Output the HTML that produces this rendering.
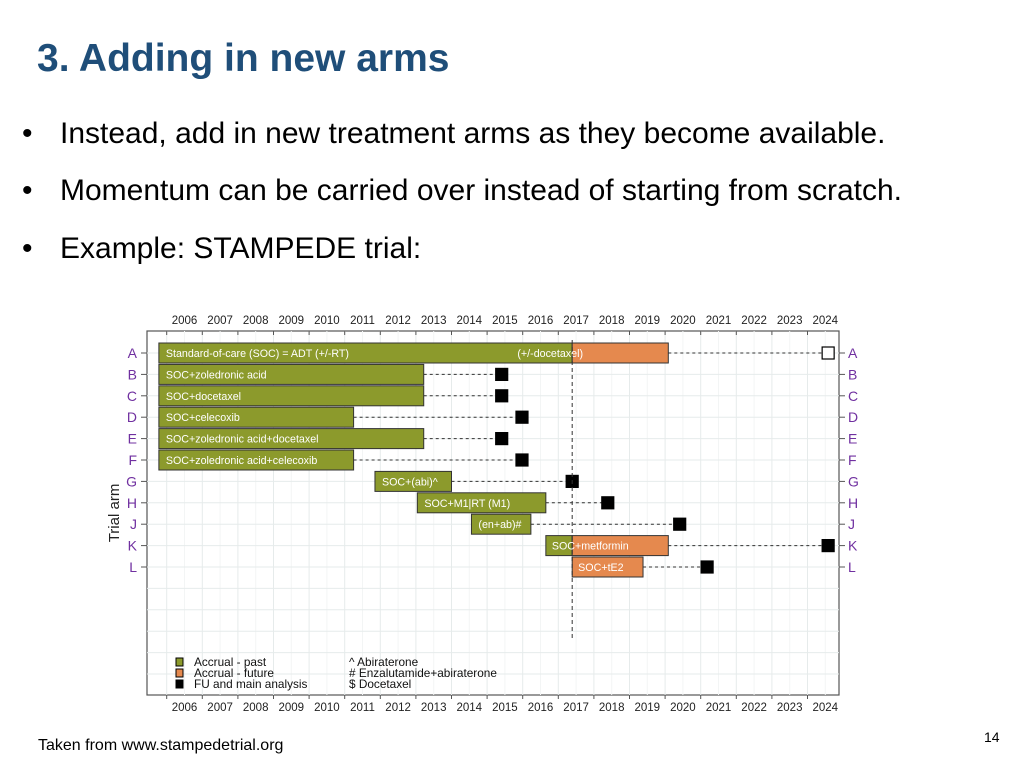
<!DOCTYPE html>
<html><head><meta charset="utf-8"><style>
body{margin:0;width:1024px;height:768px;background:#fff;font-family:"Liberation Sans",sans-serif;position:relative;overflow:hidden}
.t{position:absolute;white-space:nowrap}
</style></head><body>
<div class="t" style="left:37px;top:37px;font-size:39px;font-weight:bold;color:#1f4e79">3. Adding in new arms</div>
<div class="t" style="left:22px;top:117px;font-size:30px;color:#000"><span style="display:inline-block;width:38px">•</span>Instead, add in new treatment arms as they become available.</div>
<div class="t" style="left:22px;top:174px;font-size:30px;color:#000"><span style="display:inline-block;width:38px">•</span>Momentum can be carried over instead of starting from scratch.</div>
<div class="t" style="left:22px;top:232px;font-size:30px;color:#000"><span style="display:inline-block;width:38px">•</span>Example: STAMPEDE trial:</div>
<div class="t" style="left:38px;top:737px;font-size:16px">Taken from www.stampedetrial.org</div>
<div class="t" style="left:984px;top:729px;font-size:14px">14</div>
<svg id="chart" width="1024" height="768" style="position:absolute;left:0;top:0" font-family="Liberation Sans, sans-serif"></svg>
<script>
const years=[2006,2007,2008,2009,2010,2011,2012,2013,2014,2015,2016,2017,2018,2019,2020,2021,2022,2023,2024];
const arms=['A','B','C','D','E','F','G','H','J','K','L'];
const labels=['Standard-of-care (SOC) = ADT (+/-RT)','SOC+zoledronic acid','SOC+docetaxel','SOC+celecoxib','SOC+zoledronic acid+docetaxel','SOC+zoledronic acid+celecoxib','SOC+(abi)^','SOC+M1|RT (M1)','(en+ab)#','SOC+metformin','SOC+tE2'];
const starts=[2005.78,2005.78,2005.78,2005.78,2005.78,2005.78,2011.85,2013.04,2014.56,2016.65,2017.39];
const pastEnd=[2017.39,2013.22,2013.22,2011.25,2013.22,2011.25,2014.0,2016.65,2016.23,2017.39,2017.39];
const futureEnd=[2020.09,null,null,null,null,null,null,null,null,2020.09,2019.38];
const analysis=[2024.58,2015.41,2015.41,2015.98,2015.41,2015.98,2017.39,2018.39,2020.41,2024.58,2021.18];
const analysisFuture=[true,false,false,false,false,false,false,false,false,false,false];
const nowYear=2017.39;
const svg=document.getElementById('chart');const NS='http://www.w3.org/2000/svg';
function el(t,a,txt){const e=document.createElementNS(NS,t);for(const k in a)e.setAttribute(k,a[k]);if(txt!==undefined)e.textContent=txt;svg.appendChild(e);return e;}
const X=y=>166.7+(y-2006)*35.6;const Y=i=>353+i*21.4;
const L=147,R=839,T=331,B=695;
el('rect',{x:L,y:T,width:R-L,height:B-T,fill:'#fff',stroke:'#555','stroke-width':1.2});
for(let i=0;i<=years.length;i++){const x=X(2006+i);if(x<R){const g=el('line',{x1:x,x2:x,y1:T,y2:B,stroke:'#e6ebeb'});}
const m=X(2006.5+i);if(m<R)el('line',{x1:m,x2:m,y1:T,y2:B,stroke:'#f3f5f5'});}
for(let i=0;i<16;i++){const y=Y(i);if(y<B){const g=el('line',{x1:L,x2:R,y1:y,y2:y,stroke:'#e6ebeb'});}}
years.forEach(yr=>{const x=X(yr)+17.8;
const a=el('text',{x:x,y:324,'font-size':11.5,'text-anchor':'middle',fill:'#222'},yr);
const b=el('text',{x:x,y:711,'font-size':11.5,'text-anchor':'middle',fill:'#222'},yr);
el('line',{x1:X(yr),x2:X(yr),y1:T,y2:T+4,stroke:'#555'});el('line',{x1:X(yr),x2:X(yr),y1:B,y2:B+4,stroke:'#555'});});
arms.forEach((a,i)=>{const y=Y(i);
el('line',{x1:L-6,x2:L,y1:y,y2:y,stroke:'#555'});el('line',{x1:R,x2:R+6,y1:y,y2:y,stroke:'#555'});
const l=el('text',{x:137,y:y+5,'font-size':14,'text-anchor':'end',fill:'#7030a0'},a);
const r=el('text',{x:848,y:y+5,'font-size':14,fill:'#7030a0'},a);
const endBar=futureEnd[i]!==null?futureEnd[i]:pastEnd[i];
el('line',{x1:X(endBar),x2:X(analysis[i]),y1:y,y2:y,stroke:'#333','stroke-dasharray':'3,3'});
const p=el('rect',{x:X(starts[i]),y:y-10,width:X(pastEnd[i])-X(starts[i]),height:20,fill:'#8c9a2c',stroke:'#333'});
if(futureEnd[i]!==null){const f=el('rect',{x:X(Math.max(starts[i],pastEnd[i])),y:y-10,width:X(futureEnd[i])-X(Math.max(starts[i],pastEnd[i])),height:20,fill:'#e5894e',stroke:'#333'});}
const t=el('text',{x:X(starts[i])+(i===9||i===10?6:7),y:y+4,'font-size':10.7,fill:'#fff'},labels[i]);
const s=el('rect',{x:X(analysis[i])-6,y:y-6,width:12,height:12,fill:analysisFuture[i]?'#fff':'#000',stroke:'#000','stroke-width':1.2});});
el('text',{x:X(2015.85),y:Y(0)+4,'font-size':10.7,fill:'#fff'},'(+/-docetaxel)');
el('line',{x1:X(nowYear),x2:X(nowYear),y1:340,y2:640,stroke:'#333','stroke-dasharray':'4,3'});
const yt=el('text',{x:0,y:0,'font-size':15,fill:'#222','text-anchor':'middle',transform:'translate(119,513) rotate(-90)'},'Trial arm');
const legC=['#8c9a2c','#e5894e','#000'],legT=['Accrual - past','Accrual - future','FU and main analysis'],legN=['^ Abiraterone','# Enzalutamide+abiraterone','$ Docetaxel'];
legT.forEach((t,i)=>{const y=663+i*11;el('rect',{x:176,y:y-5,width:7,height:8,fill:legC[i],stroke:'#000'});
const a=el('text',{x:194,y:y+3,'font-size':11.8,fill:'#111'},t);
const b=el('text',{x:349,y:y+3,'font-size':11.8,fill:'#111'},legN[i]);});
</script>
</body></html>
